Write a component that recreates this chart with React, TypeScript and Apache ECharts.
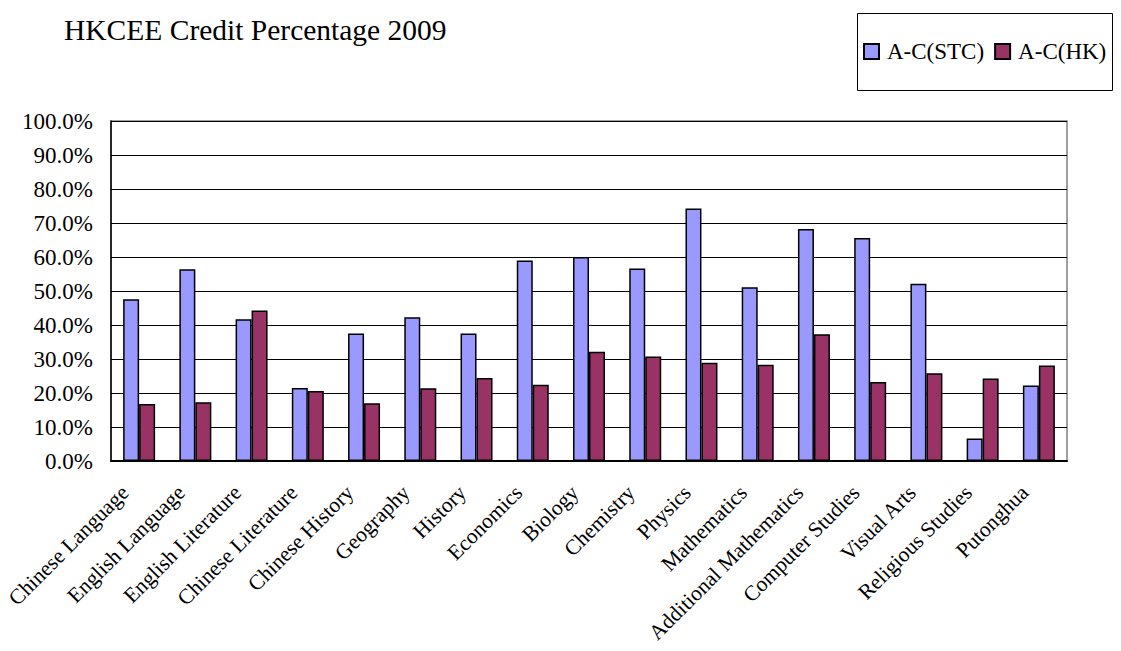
import React, { useEffect, useRef } from "react";
import * as echarts from "echarts";

const categories = [
  "Chinese Language",
  "English Language",
  "English Literature",
  "Chinese Literature",
  "Chinese History",
  "Geography",
  "History",
  "Economics",
  "Biology",
  "Chemistry",
  "Physics",
  "Mathematics",
  "Additional Mathematics",
  "Computer Studies",
  "Visual Arts",
  "Religious Studies",
  "Putonghua",
];

const stcValues = [47.6, 56.4, 41.7, 21.5, 37.5, 42.3, 37.5, 59.0, 60.0, 56.6, 74.3, 51.1, 68.2, 65.6, 52.1, 6.6, 22.2];
const hkValues = [16.8, 17.3, 44.3, 20.6, 17.0, 21.4, 24.4, 22.4, 32.1, 30.7, 28.9, 28.3, 37.3, 23.2, 25.8, 24.3, 28.1];

const seriesNames = ["A-C(STC)", "A-C(HK)"];
const titleText = "HKCEE Credit Percentage 2009";

const FONT = "'Liberation Serif', 'Times New Roman', serif";

export default function App() {
  const ref = useRef<HTMLDivElement>(null);
  useEffect(() => {
    if (!ref.current) return;
    const chart = echarts.init(ref.current, null, { renderer: "svg" });
    chart.setOption({
      animation: false,
      backgroundColor: "#fff",
      textStyle: { fontFamily: FONT },
      title: {
        text: titleText,
        left: 64,
        top: 15,
        padding: 0,
        textStyle: { fontFamily: FONT, fontSize: 29.5, fontWeight: "normal", color: "#000" },
      },
      graphic: [
        {
          type: "rect",
          shape: { x: 857.5, y: 13.5, width: 255, height: 77 },
          style: { fill: "none", stroke: "#000", lineWidth: 1 },
          z: 10,
        },
      ],
      legend: {
        left: 863,
        top: 40,
        padding: 0,
        itemWidth: 15,
        itemHeight: 15,
        itemGap: 10,
        icon: "rect",
        textStyle: { fontFamily: FONT, fontSize: 23, color: "#000", padding: [0, 0, 0, 3] },
        data: seriesNames,
      },
      grid: {
        left: 111,
        right: 54,
        top: 121,
        bottom: 190,
        show: true,
        borderColor: "#808080",
        borderWidth: 1.5,
      },
      xAxis: {
        type: "category",
        data: categories,
        axisLine: { lineStyle: { color: "#000", width: 2 } },
        axisTick: { inside: true, length: 7, lineStyle: { color: "#000" } },
        axisLabel: {
          rotate: 45,
          interval: 0,
          margin: 14,
          padding: [0, 20, 0, 0],
          fontFamily: FONT,
          fontSize: 21.5,
          color: "#000",
        },
      },
      yAxis: {
        type: "value",
        min: 0,
        max: 100,
        interval: 10,
        axisLine: { show: true, lineStyle: { color: "#000", width: 1.5 } },
        axisTick: { show: true, inside: true, length: 7, lineStyle: { color: "#000" } },
        axisLabel: {
          margin: 18,
          fontFamily: FONT,
          fontSize: 23,
          color: "#000",
          formatter: (v: number) => v.toFixed(1) + "%",
        },
        splitLine: { show: true, lineStyle: { color: "#000", width: 1 } },
      },
      series: [
        {
          name: seriesNames[0],
          type: "bar",
          data: stcValues,
          barWidth: 16,
          barGap: "0%",
          itemStyle: { color: "#9999FF", borderColor: "#000", borderWidth: 1.5 },
        },
        {
          name: seriesNames[1],
          type: "bar",
          data: hkValues,
          barWidth: 16,
          itemStyle: { color: "#993366", borderColor: "#000", borderWidth: 1.5 },
        },
      ],
    });
    return () => chart.dispose();
  }, []);
  return <div ref={ref} style={{ width: 1121, height: 651, position: "absolute", left: 0, top: 0 }} />;
}
